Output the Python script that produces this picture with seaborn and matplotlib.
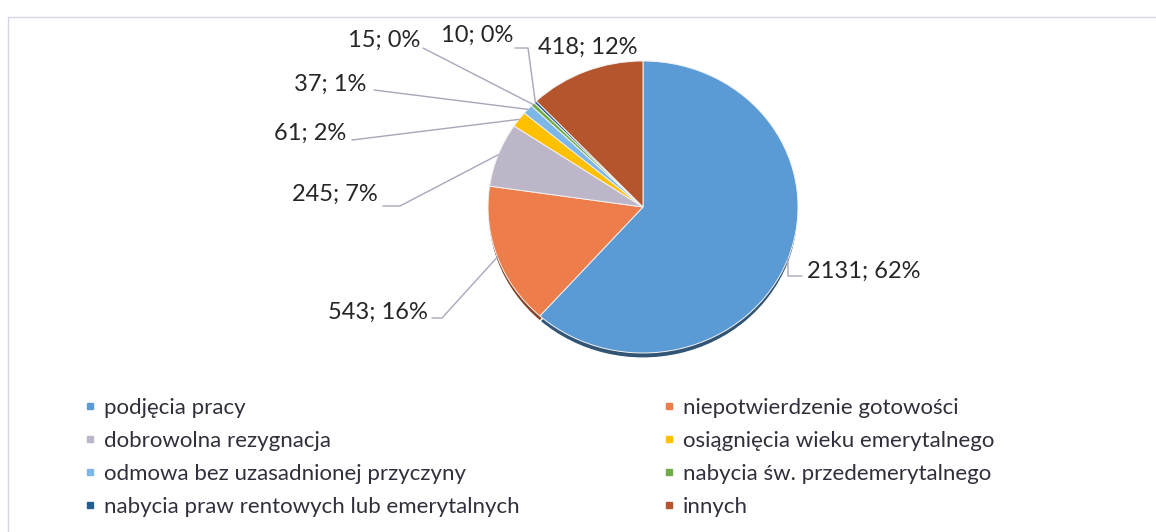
import matplotlib.pyplot as plt
import matplotlib.colors as mcolors
import numpy as np
import seaborn as sns
from matplotlib.lines import Line2D

categories = [
    "podjęcia pracy",
    "niepotwierdzenie gotowości",
    "dobrowolna rezygnacja",
    "osiągnięcia wieku emerytalnego",
    "odmowa bez uzasadnionej przyczyny",
    "nabycia św. przedemerytalnego",
    "nabycia praw rentowych lub emerytalnych",
    "innych",
]
counts = [2131, 543, 245, 61, 37, 15, 10, 418]
colors = ["#5B9BD5", "#ED7D4A", "#BDB6C8", "#FFC000",
          "#7DB7E8", "#70AD47", "#255E91", "#B5552D"]

sns.set_theme(style="white")
plt.rcParams["font.family"] = ["Lato", "DejaVu Sans"]

W, H = 1156, 532
CX, CY, RX, RY = 643, 207, 155, 146


def px(x, y):
    # pixel position -> data coords (pie radius = 1)
    return (x - CX) / RX, (CY - y) / RY


fig = plt.figure(figsize=(W / 100, H / 100), dpi=100)
ax = fig.add_axes([0, 0, 1, 1])

# slight 3D rim below the pie
dark = [tuple(np.array(mcolors.to_rgb(c)) * 0.55) for c in colors]
ax.pie(counts, colors=dark, startangle=90, counterclock=False,
       center=(0, -0.035), radius=1.0)
wedges, _ = ax.pie(counts, colors=colors, startangle=90, counterclock=False,
                   radius=1.0, wedgeprops=dict(edgecolor="#F2F2F2", linewidth=0.7))

ax.set_aspect("auto")
ax.set_xlim(px(0, 0)[0], px(W, 0)[0])
ax.set_ylim(px(0, H)[1], px(0, 0)[1])
ax.axis("off")

total = sum(counts)
labels = [f"{v}; {round(100 * v / total)}%" for v in counts]

# label layout: text anchor (px), alignment, elbow points of the leader line (px)
layout = [
    ((807, 271), "left", [(788, 276), (802, 276)]),
    ((428, 312), "right", [(442, 318), (432, 318)]),
    ((378, 194), "right", [(400, 206), (383, 206)]),
    ((346, 133), "right", [(352, 140)]),
    ((366, 84), "right", [(374, 90)]),
    ((420, 40), "right", [(423, 48)]),
    ((441, 35), "left", [(528, 48), (515, 48)]),
    ((588, 47), "center", []),
]

line_col = "#ABA5BA"
for w, lab, (tpos, ha, elbow) in zip(wedges, labels, layout):
    ang = np.deg2rad((w.theta1 + w.theta2) / 2)
    ex, ey = np.cos(ang), np.sin(ang)
    if elbow:
        pts = [(ex, ey)] + [px(*p) for p in elbow]
        xs, ys = zip(*pts)
        ax.plot(xs, ys, color=line_col, lw=1)
    tx, ty = px(*tpos)
    ax.text(tx, ty, lab, ha=ha, va="center", fontsize=17, color="#262626")

# faint chart-area border
ax.plot([px(8, 0)[0], px(W, 0)[0]], [px(0, 17)[1]] * 2, color="#D8D6E6", lw=1)
ax.plot([px(8, 0)[0]] * 2, [px(0, 17)[1], px(0, H)[1]], color="#D8D6E6", lw=1)

# legend in two columns
def handles(idx):
    return [Line2D([], [], marker="s", linestyle="", markersize=5,
                   color=colors[i]) for i in idx]

left = [0, 2, 4, 6]
right = [1, 3, 5, 7]
kw = dict(loc="upper left", frameon=False, fontsize=16, handlelength=0.6,
          handletextpad=0.35, labelspacing=0.58, borderpad=0, labelcolor="#30303C")
fig.legend(handles(left), [categories[i] for i in left],
           bbox_to_anchor=(72 / W, 1 - 387 / H), **kw)
fig.legend(handles(right), [categories[i] for i in right],
           bbox_to_anchor=(651 / W, 1 - 387 / H), **kw)

fig.savefig("out.png", dpi=100)
